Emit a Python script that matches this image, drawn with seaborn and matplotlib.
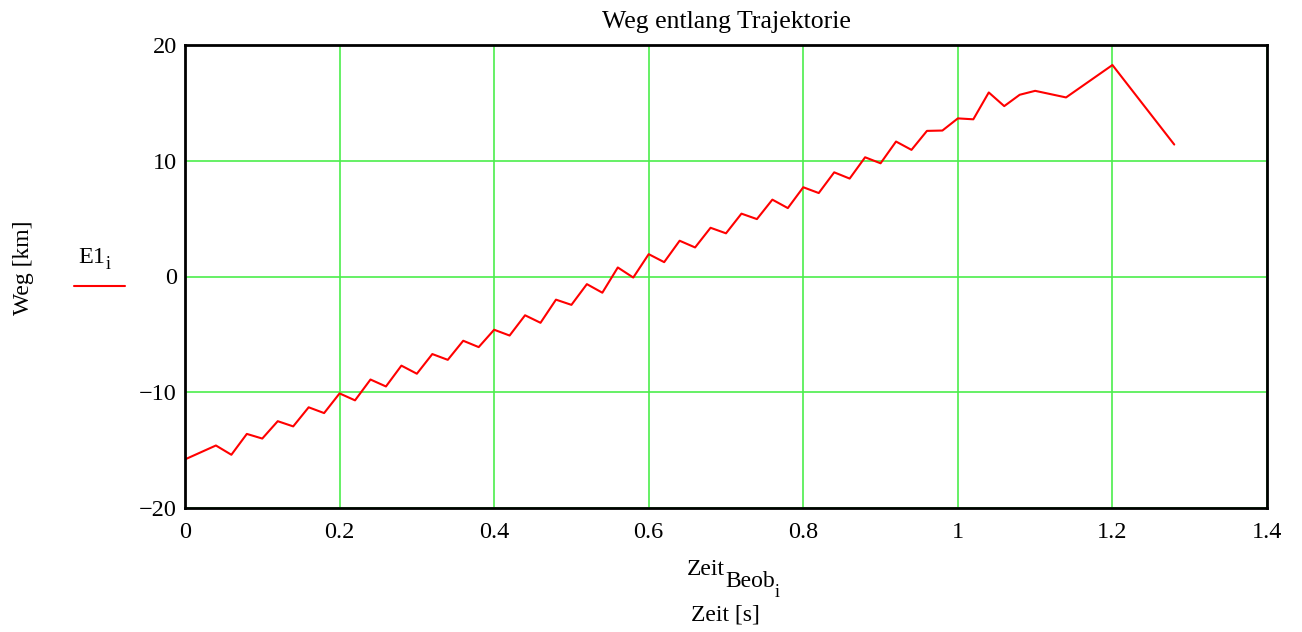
import numpy as np
import pandas as pd
import matplotlib
matplotlib.use("Agg")
import matplotlib.pyplot as plt
import seaborn as sns

# Zeitpunkte der Beobachtung [s]
zeit = [0.00, 0.04, 0.06, 0.08, 0.10, 0.12, 0.14, 0.16, 0.18, 0.20,
        0.22, 0.24, 0.26, 0.28, 0.30, 0.32, 0.34, 0.36, 0.38, 0.40,
        0.42, 0.44, 0.46, 0.48, 0.50, 0.52, 0.54, 0.56, 0.58, 0.60,
        0.62, 0.64, 0.66, 0.68, 0.70, 0.72, 0.74, 0.76, 0.78, 0.80,
        0.82, 0.84, 0.86, 0.88, 0.90, 0.92, 0.94, 0.96, 0.98, 1.00,
        1.02, 1.04, 1.06, 1.08, 1.10, 1.14, 1.20, 1.28]
# Weg E1 [km]
weg = [-15.8, -14.6, -15.4, -13.6, -14.0, -12.5, -12.95, -11.3, -11.8, -10.1,
       -10.7, -8.9, -9.5, -7.7, -8.4, -6.7, -7.2, -5.55, -6.1, -4.6,
       -5.1, -3.35, -4.0, -2.0, -2.45, -0.66, -1.4, 0.78, -0.09, 1.93,
       1.24, 3.09, 2.51, 4.21, 3.73, 5.43, 4.96, 6.64, 5.91, 7.71,
       7.21, 9.0, 8.46, 10.3, 9.78, 11.66, 10.94, 12.58, 12.61, 13.66,
       13.58, 15.9, 14.72, 15.7, 16.04, 15.47, 18.27, 11.4]

x_ticks = [0, 0.2, 0.4, 0.6, 0.8, 1, 1.2, 1.4]
x_labels = ['0', '0.2', '0.4', '0.6', '0.8', '1', '1.2', '1.4']
y_ticks = [-20, -10, 0, 10, 20]
y_labels = ['\u221220', '\u221210', '0', '10', '20']

sns.set_style("white")
plt.rcParams['font.family'] = ['Liberation Serif', 'DejaVu Serif']
plt.rcParams['text.color'] = 'black'
plt.rcParams['xtick.color'] = 'black'
plt.rcParams['ytick.color'] = 'black'

W, H = 1302, 632

def fx(px):
    return px / W

def fy(py):
    return 1 - py / H

df = pd.DataFrame({'zeit': zeit, 'weg': weg})

fig = plt.figure(figsize=(13.02, 6.32), dpi=100)
ax = fig.add_axes([fx(185), fy(508), fx(1267) - fx(185), fy(45) - fy(508)])

sns.lineplot(data=df, x='zeit', y='weg', ax=ax, color='#ff0000', linewidth=1.5)

ax.set_xlim(0, 1.4)
ax.set_ylim(-20, 20)
ax.set_xticks(x_ticks)
ax.set_yticks(y_ticks)
ax.set_xticklabels(x_labels, fontsize=17.5)
ax.set_yticklabels(y_labels, fontsize=17.5)
ax.tick_params(axis='x', length=0, pad=10, labelcolor='black')
ax.tick_params(axis='y', length=0, pad=6, labelcolor='black')
ax.grid(True, color='#4cee4c', linewidth=1.2)
ax.set_axisbelow(True)
for s in ax.spines.values():
    s.set_color('black')
    s.set_linewidth(2)

ax.set_xlabel('')
ax.set_ylabel('')

# Titel und Achsenbeschriftungen
fig.text(fx(726.5), fy(28), 'Weg entlang Trajektorie', ha='center', va='baseline', fontsize=18.5)
fig.text(fx(23), fy(268), 'Weg [km]', rotation=90, ha='center', va='center', fontsize=17)

# Legende
fig.text(fx(78), fy(263), 'E1', ha='left', va='baseline', fontsize=17.5)
fig.text(fx(106), fy(269), 'i', ha='left', va='baseline', fontsize=13)
fig.add_artist(plt.Line2D([fx(74), fx(125)], [fy(286), fy(286)], color='#ff0000', linewidth=1.5))

# x-Beschriftung
fig.text(fx(687), fy(575), 'Zeit', ha='left', va='baseline', fontsize=17)
fig.text(fx(725), fy(587), 'Beob', ha='left', va='baseline', fontsize=17)
fig.text(fx(775), fy(597), 'i', ha='left', va='baseline', fontsize=13)
fig.text(fx(725.5), fy(620), 'Zeit [s]', ha='center', va='baseline', fontsize=17)

fig.savefig('out.png', dpi=100)
